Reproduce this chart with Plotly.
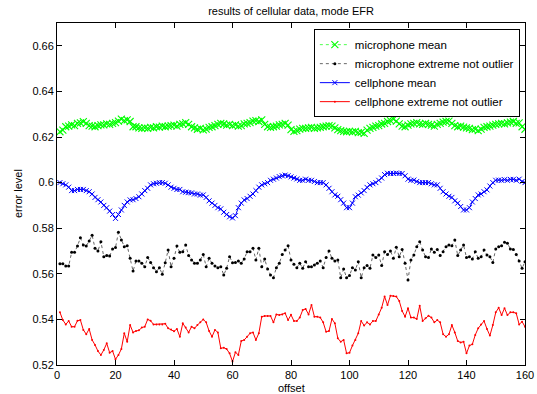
import plotly.graph_objects as go

offset = list(range(1, 161))

mic_mean = [
    0.6223, 0.6230, 0.6245, 0.6248, 0.6253, 0.6250, 0.6260, 0.6262, 0.6267, 0.6260,
    0.6250, 0.6248, 0.6245, 0.6250, 0.6253, 0.6253, 0.6258, 0.6255, 0.6260, 0.6263,
    0.6270, 0.6278, 0.6272, 0.6275, 0.6268, 0.6245, 0.6245, 0.6240, 0.6238, 0.6240,
    0.6238, 0.6242, 0.6240, 0.6245, 0.6243, 0.6248, 0.6245, 0.6248, 0.6250, 0.6252,
    0.6248, 0.6255, 0.6258, 0.6263, 0.6255, 0.6245, 0.6240, 0.6234, 0.6238, 0.6231,
    0.6235, 0.6242, 0.6245, 0.6250, 0.6255, 0.6260, 0.6257, 0.6252, 0.6255, 0.6250,
    0.6253, 0.6248, 0.6250, 0.6258, 0.6260, 0.6263, 0.6270, 0.6272, 0.6268, 0.6275,
    0.6255, 0.6245, 0.6242, 0.6245, 0.6248, 0.6253, 0.6255, 0.6260, 0.6252, 0.6232,
    0.6225, 0.6228, 0.6235, 0.6238, 0.6238, 0.6240, 0.6242, 0.6238, 0.6240, 0.6242,
    0.6245, 0.6248, 0.6250, 0.6248, 0.6240, 0.6232, 0.6228, 0.6225, 0.6223, 0.6225,
    0.6222, 0.6225, 0.6219, 0.6220, 0.6216, 0.6230, 0.6238, 0.6242, 0.6248, 0.6250,
    0.6257, 0.6260, 0.6268, 0.6272, 0.6278, 0.6270, 0.6258, 0.6248, 0.6245, 0.6252,
    0.6258, 0.6260, 0.6263, 0.6258, 0.6255, 0.6260, 0.6255, 0.6252, 0.6248, 0.6255,
    0.6260, 0.6265, 0.6268, 0.6270, 0.6260, 0.6250, 0.6245, 0.6248, 0.6243, 0.6240,
    0.6238, 0.6232, 0.6235, 0.6228, 0.6235, 0.6242, 0.6245, 0.6248, 0.6252, 0.6255,
    0.6258, 0.6260, 0.6258, 0.6262, 0.6265, 0.6268, 0.6260, 0.6262, 0.6245, 0.6234,
]

mic_extreme = [
    0.5644, 0.5644, 0.5634, 0.5634, 0.5694, 0.5694, 0.5722, 0.5758, 0.5726, 0.5722,
    0.5744, 0.5769, 0.5712, 0.5700, 0.5741, 0.5675, 0.5680, 0.5678, 0.5709, 0.5715,
    0.5782, 0.5748, 0.5719, 0.5723, 0.5668, 0.5612, 0.5656, 0.5656, 0.5646, 0.5631,
    0.5671, 0.5650, 0.5627, 0.5609, 0.5627, 0.5598, 0.5649, 0.5704, 0.5631, 0.5668,
    0.5722, 0.5694, 0.5697, 0.5726, 0.5680, 0.5661, 0.5646, 0.5646, 0.5661, 0.5685,
    0.5631, 0.5668, 0.5646, 0.5634, 0.5627, 0.5631, 0.5595, 0.5624, 0.5675, 0.5649,
    0.5650, 0.5656, 0.5646, 0.5665, 0.5697, 0.5697, 0.5712, 0.5661, 0.5712, 0.5631,
    0.5665, 0.5621, 0.5595, 0.5583, 0.5627, 0.5646, 0.5685, 0.5704, 0.5723, 0.5661,
    0.5642, 0.5627, 0.5646, 0.5624, 0.5653, 0.5631, 0.5631, 0.5639, 0.5646, 0.5656,
    0.5627, 0.5671, 0.5700, 0.5668, 0.5656, 0.5661, 0.5583, 0.5621, 0.5583, 0.5592,
    0.5627, 0.5617, 0.5653, 0.5583, 0.5627, 0.5636, 0.5624, 0.5682, 0.5672, 0.5682,
    0.5636, 0.5697, 0.5685, 0.5700, 0.5668, 0.5716, 0.5675, 0.5707, 0.5646, 0.5573,
    0.5661, 0.5682, 0.5719, 0.5741, 0.5704, 0.5675, 0.5671, 0.5709, 0.5694, 0.5707,
    0.5680, 0.5697, 0.5719, 0.5726, 0.5723, 0.5748, 0.5680, 0.5704, 0.5726, 0.5671,
    0.5675, 0.5665, 0.5697, 0.5668, 0.5675, 0.5704, 0.5682, 0.5675, 0.5650, 0.5709,
    0.5719, 0.5723, 0.5738, 0.5734, 0.5709, 0.5707, 0.5685, 0.5656, 0.5624, 0.5653,
]

cell_mean = [
    0.6000, 0.5995, 0.5990, 0.5980, 0.5965, 0.5965, 0.5970, 0.5970, 0.5970, 0.5965,
    0.5960, 0.5950, 0.5935, 0.5925, 0.5915, 0.5900, 0.5890, 0.5875, 0.5860, 0.5843,
    0.5860, 0.5880, 0.5900, 0.5915, 0.5924, 0.5925, 0.5930, 0.5938, 0.5950, 0.5965,
    0.5975, 0.5990, 0.5995, 0.5997, 0.6000, 0.6000, 0.5997, 0.5990, 0.5980, 0.5975,
    0.5970, 0.5970, 0.5960, 0.5958, 0.5956, 0.5955, 0.5950, 0.5950, 0.5945, 0.5946,
    0.5935, 0.5920, 0.5910, 0.5900, 0.5890, 0.5885, 0.5870, 0.5860, 0.5850, 0.5845,
    0.5855, 0.5890, 0.5910, 0.5924, 0.5930, 0.5940, 0.5950, 0.5965, 0.5980, 0.5990,
    0.5995, 0.6000, 0.6010, 0.6015, 0.6020, 0.6026, 0.6030, 0.6033, 0.6030, 0.6025,
    0.6020, 0.6016, 0.6010, 0.6010, 0.6015, 0.6010, 0.6010, 0.6005, 0.6000, 0.6000,
    0.6000, 0.5990, 0.5975, 0.5960, 0.5946, 0.5940, 0.5925, 0.5910, 0.5890, 0.5890,
    0.5910, 0.5938, 0.5945, 0.5955, 0.5965, 0.5979, 0.5990, 0.5995, 0.6000, 0.6010,
    0.6020, 0.6035, 0.6041, 0.6040, 0.6040, 0.6042, 0.6040, 0.6040, 0.6030, 0.6015,
    0.6010, 0.6011, 0.6005, 0.6000, 0.6000, 0.6000, 0.6000, 0.5995, 0.5990, 0.5990,
    0.5975, 0.5960, 0.5950, 0.5940, 0.5935, 0.5920, 0.5910, 0.5895, 0.5880, 0.5880,
    0.5890, 0.5915, 0.5930, 0.5946, 0.5950, 0.5960, 0.5968, 0.5985, 0.6000, 0.6010,
    0.6011, 0.6010, 0.6013, 0.6010, 0.6014, 0.6014, 0.6010, 0.6015, 0.6005, 0.6000,
]

cell_extreme = [
    0.5431, 0.5397, 0.5378, 0.5393, 0.5368, 0.5368, 0.5394, 0.5397, 0.5354, 0.5335,
    0.5358, 0.5310, 0.5288, 0.5261, 0.5244, 0.5266, 0.5295, 0.5254, 0.5261, 0.5225,
    0.5244, 0.5270, 0.5339, 0.5302, 0.5375, 0.5343, 0.5349, 0.5352, 0.5364, 0.5368,
    0.5400, 0.5394, 0.5378, 0.5378, 0.5378, 0.5378, 0.5381, 0.5361, 0.5356, 0.5348,
    0.5358, 0.5324, 0.5383, 0.5364, 0.5343, 0.5368, 0.5361, 0.5375, 0.5387, 0.5400,
    0.5387, 0.5349, 0.5324, 0.5354, 0.5343, 0.5273, 0.5276, 0.5270, 0.5251, 0.5215,
    0.5256, 0.5244, 0.5305, 0.5310, 0.5324, 0.5339, 0.5343, 0.5310, 0.5339, 0.5412,
    0.5415, 0.5415, 0.5415, 0.5387, 0.5422, 0.5419, 0.5422, 0.5427, 0.5397, 0.5420,
    0.5393, 0.5393, 0.5408, 0.5441, 0.5446, 0.5422, 0.5463, 0.5412, 0.5412, 0.5408,
    0.5387, 0.5346, 0.5349, 0.5402, 0.5383, 0.5317, 0.5302, 0.5310, 0.5251, 0.5254,
    0.5285, 0.5310, 0.5339, 0.5393, 0.5373, 0.5387, 0.5378, 0.5393, 0.5393, 0.5422,
    0.5451, 0.5500, 0.5463, 0.5504, 0.5503, 0.5500, 0.5481, 0.5437, 0.5412, 0.5449,
    0.5408, 0.5408, 0.5402, 0.5460, 0.5393, 0.5405, 0.5416, 0.5408, 0.5387, 0.5397,
    0.5387, 0.5335, 0.5324, 0.5335, 0.5375, 0.5343, 0.5305, 0.5299, 0.5302, 0.5251,
    0.5285, 0.5291, 0.5332, 0.5361, 0.5378, 0.5393, 0.5358, 0.5329, 0.5375, 0.5431,
    0.5451, 0.5419, 0.5449, 0.5419, 0.5431, 0.5431, 0.5427, 0.5378, 0.5390, 0.5368,
]

x_ticks = [0, 20, 40, 60, 80, 100, 120, 140, 160]
y_ticks = [0.52, 0.54, 0.56, 0.58, 0.6, 0.62, 0.64, 0.66]
y_tick_text = ["0.52", "0.54", "0.56", "0.58", "0.6", "0.62", "0.64", "0.66"]

FONT = "Liberation Sans, Arial, Helvetica, sans-serif"

fig = go.Figure()
fig.add_trace(go.Scatter(
    x=offset, y=mic_mean, name="microphone mean", mode="lines+markers",
    line=dict(color="#00ff00", width=0.7, dash="dot"),
    marker=dict(symbol="x-thin", size=7, color="#00ff00",
                line=dict(width=1.1, color="#00ff00")),
))
fig.add_trace(go.Scatter(
    x=offset, y=mic_extreme, name="microphone extreme not outlier", mode="lines+markers",
    line=dict(color="#000000", width=0.6, dash="dot"),
    marker=dict(symbol="circle", size=3, color="#000000"),
))
fig.add_trace(go.Scatter(
    x=offset, y=cell_mean, name="cellphone mean", mode="lines+markers",
    line=dict(color="#0000ff", width=1),
    marker=dict(symbol="x-thin", size=5, color="#0000ff",
                line=dict(width=1, color="#0000ff")),
))
fig.add_trace(go.Scatter(
    x=offset, y=cell_extreme, name="cellphone extreme not outlier", mode="lines+markers",
    line=dict(color="#ff0000", width=1),
    marker=dict(symbol="circle", size=2, color="#ff0000"),
))

axis_common = dict(
    showline=True, linecolor="black", linewidth=1, mirror="ticks",
    ticks="inside", ticklen=5, tickcolor="black", showgrid=False, zeroline=False,
    automargin=False,
    tickfont=dict(family=FONT, size=11, color="black"),
)

fig.update_layout(
    width=537, height=394,
    margin=dict(l=57, r=12, t=23, b=29, autoexpand=False),
    paper_bgcolor="white", plot_bgcolor="white",
    font=dict(family=FONT, size=11, color="black"),
    title=dict(text="results of cellular data, mode EFR", x=0.542, xanchor="center",
               y=0.972, yanchor="middle", automargin=False,
               font=dict(family=FONT, size=11, color="black")),
    xaxis=dict(range=[0, 160], tickvals=x_ticks, **axis_common),
    yaxis=dict(range=[0.52, 0.67], tickvals=y_ticks, ticktext=y_tick_text, **axis_common),
    legend=dict(x=0.989, y=0.982, xanchor="right", yanchor="top",
                bgcolor="white", bordercolor="black", borderwidth=1,
                font=dict(family=FONT, size=11.5, color="black"),
                itemwidth=30, tracegroupgap=0),
    showlegend=True,
    annotations=[
        dict(text="offset", xref="paper", yref="paper", x=0.5, y=0,
             xanchor="center", yanchor="middle", yshift=-23, showarrow=False,
             font=dict(family=FONT, size=11, color="black")),
        dict(text="error level", xref="paper", yref="paper", x=0, y=0.5,
             xanchor="center", yanchor="middle", xshift=-39, textangle=-90,
             showarrow=False, font=dict(family=FONT, size=11, color="black")),
    ],
)

fig.write_html("out.html")
